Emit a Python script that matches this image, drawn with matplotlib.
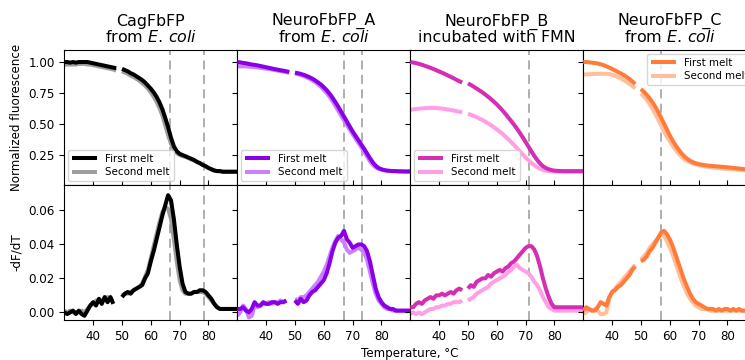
import numpy as np
import matplotlib
matplotlib.use("Agg")
import matplotlib.pyplot as plt

nan = np.nan
temperature = list(range(30, 91))

titles = ["CagFbFP\nfrom $\\it{E.}$$\\it{\\,coli}$",
          "NeuroFbFP_A\nfrom $\\it{E.}$$\\it{\\,coli}$",
          "NeuroFbFP_B\nincubated with FMN",
          "NeuroFbFP_C\nfrom $\\it{E.}$$\\it{\\,coli}$"]
series_labels = ["First melt", "Second melt"]
tm_lines = [[66.8, 78.5], [67.0, 73.1], [71.2], [56.9]]

# ---------------- normalized fluorescence ----------------
cag_f1 = [1.00, 1.00, 0.995, 1.00, 0.995, 1.00, 1.00, 1.00, 1.00, 0.995,
          0.99, 0.985, 0.98, 0.975, 0.97, 0.965, 0.96, 0.955, 0.95, nan,
          0.945, 0.935, 0.925, 0.91, 0.90, 0.885, 0.87, 0.855, 0.835, 0.81,
          0.785, 0.755, 0.72, 0.675, 0.62, 0.55, 0.475, 0.39, 0.32, 0.28,
          0.26, 0.25, 0.24, 0.23, 0.22, 0.21, 0.195, 0.185, 0.17, 0.16,
          0.145, 0.135, 0.125, 0.12, 0.12, 0.115, 0.115, 0.115, 0.115, 0.115, 0.115]
cag_f2 = [0.98, 0.98, 0.98, 0.98, 0.98, 0.985, 0.985, 0.985, 0.98, 0.98,
          0.975, 0.97, 0.965, 0.96, 0.955, 0.95, 0.945, 0.94, 0.93, nan,
          0.925, 0.915, 0.905, 0.89, 0.88, 0.865, 0.85, 0.83, 0.81, 0.785,
          0.755, 0.72, 0.68, 0.63, 0.57, 0.49, 0.41, 0.34, 0.29, 0.265,
          0.25, 0.24, 0.235, 0.225, 0.215, 0.205, 0.193, 0.183, 0.168, 0.158,
          0.145, 0.135, 0.125, 0.12, 0.12, 0.115, 0.115, 0.115, 0.115, 0.115, 0.115]

na_f1 = [1.00, 0.997, 0.993, 0.99, 0.985, 0.98, 0.977, 0.973, 0.968, 0.963,
         0.958, 0.953, 0.948, 0.943, 0.938, 0.934, 0.93, 0.925, 0.92, nan,
         0.915, 0.91, 0.904, 0.897, 0.888, 0.878, 0.866, 0.852, 0.836, 0.818,
         0.797, 0.773, 0.745, 0.713, 0.677, 0.64, 0.60, 0.56, 0.52, 0.48,
         0.44, 0.405, 0.37, 0.335, 0.30, 0.262, 0.225, 0.19, 0.163, 0.145,
         0.135, 0.128, 0.124, 0.122, 0.12, 0.12, 0.118, 0.118, 0.117, 0.117, 0.117]
na_f2 = [0.965, 0.965, 0.965, 0.965, 0.963, 0.96, 0.958, 0.956, 0.954, 0.95,
         0.947, 0.943, 0.939, 0.935, 0.931, 0.927, 0.923, 0.918, 0.913, nan,
         0.908, 0.902, 0.895, 0.887, 0.877, 0.866, 0.853, 0.838, 0.82, 0.80,
         0.776, 0.75, 0.72, 0.685, 0.648, 0.608, 0.568, 0.53, 0.492, 0.455,
         0.418, 0.383, 0.348, 0.313, 0.276, 0.238, 0.20, 0.17, 0.15, 0.138,
         0.132, 0.127, 0.123, 0.121, 0.12, 0.119, 0.118, 0.118, 0.117, 0.117, 0.117]

nb_f1 = [1.000, 0.996, 0.991, 0.985, 0.978, 0.970, 0.962, 0.953, 0.944, 0.934,
         0.924, 0.914, 0.903, 0.892, 0.881, 0.869, 0.857, 0.845, 0.835, nan,
         0.828, 0.815, 0.801, 0.786, 0.771, 0.755, 0.738, 0.72, 0.70, 0.68,
         0.658, 0.634, 0.609, 0.582, 0.552, 0.524, 0.494, 0.462, 0.428, 0.392,
         0.355, 0.317, 0.279, 0.243, 0.21, 0.182, 0.16, 0.145, 0.135, 0.128,
         0.124, 0.122, 0.121, 0.12, 0.12, 0.12, 0.12, 0.12, 0.12, 0.12, 0.12]
nb_f2 = [0.615, 0.618, 0.621, 0.624, 0.626, 0.628, 0.629, 0.63, 0.63, 0.629,
         0.627, 0.624, 0.621, 0.617, 0.613, 0.609, 0.604, 0.599, 0.594, nan,
         0.582, 0.574, 0.565, 0.555, 0.544, 0.532, 0.519, 0.505, 0.49, 0.474,
         0.457, 0.439, 0.42, 0.399, 0.377, 0.354, 0.33, 0.305, 0.279, 0.254,
         0.23, 0.207, 0.186, 0.167, 0.151, 0.139, 0.13, 0.124, 0.12, 0.118,
         0.117, 0.116, 0.116, 0.115, 0.115, 0.115, 0.115, 0.115, 0.115, 0.115, 0.115]

nc_f1 = [1.00, 1.00, 0.998, 0.995, 0.992, 0.988, 0.982, 0.975, 0.965, 0.955,
         0.944, 0.932, 0.92, 0.908, 0.895, 0.88, 0.863, 0.844, 0.823, nan,
         0.782, 0.76, 0.735, 0.707, 0.675, 0.638, 0.596, 0.55, 0.502, 0.455,
         0.408, 0.365, 0.328, 0.295, 0.265, 0.24, 0.22, 0.204, 0.192, 0.183,
         0.177, 0.172, 0.168, 0.165, 0.163, 0.161, 0.159, 0.157, 0.155, 0.153,
         0.151, 0.148, 0.146, 0.143, 0.141, 0.138, 0.136, 0.134, 0.132, 0.13, 0.128]
nc_f2 = [0.90, 0.90, 0.902, 0.903, 0.904, 0.905, 0.905, 0.905, 0.905, 0.903,
         0.898, 0.89, 0.88, 0.868, 0.855, 0.84, 0.824, 0.806, 0.787, nan,
         0.745, 0.722, 0.696, 0.66, 0.623, 0.58, 0.535, 0.488, 0.44, 0.398,
         0.36, 0.325, 0.292, 0.263, 0.238, 0.218, 0.202, 0.19, 0.181, 0.174,
         0.168, 0.163, 0.159, 0.155, 0.152, 0.149, 0.146, 0.144, 0.142, 0.14,
         0.138, 0.136, 0.134, 0.132, 0.13, 0.128, 0.127, 0.126, 0.125, 0.124, 0.123]

# ---------------- -dF/dT ----------------
cag_d1 = [0.000, -0.001, 0.000, 0.001, -0.001, 0.001, -0.001, -0.002, 0.001, 0.004,
          0.006, 0.004, 0.008, 0.005, 0.009, 0.006, 0.009, 0.005, nan, nan,
          0.009, 0.011, 0.012, 0.011, 0.013, 0.014, 0.015, 0.016, 0.020, 0.023,
          0.030, 0.036, 0.043, 0.050, 0.057, 0.063, 0.069, 0.066, 0.055, 0.040,
          0.027, 0.017, 0.012, 0.011, 0.011, 0.012, 0.012, 0.013, 0.013, 0.012,
          0.010, 0.008, 0.005, 0.003, 0.002, 0.002, 0.002, 0.002, 0.002, 0.002, 0.002]
cag_d2 = [0.001, 0.000, 0.001, 0.000, 0.000, 0.000, 0.001, 0.000, 0.002, 0.004,
          0.005, 0.007, 0.006, 0.007, 0.008, 0.009, 0.007, 0.008, nan, nan,
          0.010, 0.011, 0.011, 0.012, 0.013, 0.014, 0.015, 0.017, 0.021, 0.025,
          0.032, 0.039, 0.046, 0.053, 0.059, 0.062, 0.061, 0.055, 0.043, 0.030,
          0.019, 0.013, 0.011, 0.011, 0.011, 0.012, 0.012, 0.012, 0.012, 0.011,
          0.009, 0.007, 0.005, 0.003, 0.002, 0.002, 0.002, 0.002, 0.002, 0.002, 0.002]

na_d1 = [0.002, 0.002, 0.003, 0.001, 0.000, 0.002, 0.006, 0.004, 0.004, 0.006,
         0.005, 0.005, 0.006, 0.006, 0.005, 0.006, 0.006, 0.007, nan, nan,
         0.007, 0.005, 0.008, 0.006, 0.007, 0.010, 0.012, 0.013, 0.015, 0.017,
         0.019, 0.023, 0.029, 0.036, 0.041, 0.044, 0.045, 0.048, 0.043, 0.041,
         0.038, 0.039, 0.040, 0.040, 0.039, 0.036, 0.030, 0.022, 0.014, 0.009,
         0.006, 0.004, 0.003, 0.002, 0.002, 0.001, 0.001, 0.001, 0.001, 0.001, 0.001]
na_d2 = [-0.002, 0.000, 0.004, 0.002, -0.003, -0.002, 0.004, 0.003, 0.004, 0.005,
         0.005, 0.006, 0.005, 0.006, 0.006, 0.007, 0.006, 0.007, nan, nan,
         0.008, 0.007, 0.009, 0.009, 0.010, 0.012, 0.014, 0.016, 0.018, 0.021,
         0.024, 0.028, 0.033, 0.038, 0.042, 0.045, 0.043, 0.041, 0.037, 0.035,
         0.036, 0.037, 0.038, 0.037, 0.035, 0.031, 0.024, 0.017, 0.011, 0.007,
         0.005, 0.003, 0.002, 0.002, 0.001, 0.001, 0.001, 0.001, 0.001, 0.001, 0.001]

nb_d1 = [0.003, 0.003, 0.005, 0.006, 0.005, 0.007, 0.008, 0.009, 0.008, 0.010,
         0.010, 0.011, 0.010, 0.011, 0.012, 0.011, 0.013, 0.014, 0.013, nan,
         0.014, 0.016, 0.015, 0.018, 0.019, 0.020, 0.020, 0.022, 0.021, 0.023,
         0.024, 0.025, 0.024, 0.026, 0.027, 0.029, 0.030, 0.032, 0.034, 0.036,
         0.038, 0.039, 0.039, 0.037, 0.033, 0.027, 0.020, 0.014, 0.009, 0.005,
         0.003, 0.003, 0.003, 0.003, 0.003, 0.003, 0.003, 0.003, 0.003, 0.003, 0.003]
nb_d2 = [-0.001, 0.000, -0.001, 0.000, -0.001, 0.000, 0.001, 0.002, 0.002, 0.003,
         0.003, 0.004, 0.004, 0.005, 0.005, 0.006, 0.006, 0.006, 0.007, nan,
         0.007, 0.008, 0.009, 0.011, 0.012, 0.013, 0.014, 0.015, 0.017, 0.018,
         0.019, 0.020, 0.021, 0.022, 0.024, 0.025, 0.027, 0.028, 0.026, 0.025,
         0.024, 0.023, 0.021, 0.018, 0.016, 0.013, 0.009, 0.006, 0.003, 0.002,
         0.001, 0.001, 0.001, 0.001, 0.001, 0.001, 0.001, 0.001, 0.001, 0.001, 0.001]

nc_d1 = [0.001, 0.003, 0.002, 0.001, 0.001, 0.003, 0.006, 0.005, 0.004, 0.009,
         0.012, 0.013, 0.015, 0.016, 0.018, 0.020, 0.022, 0.025, 0.027, nan,
         0.030, 0.031, 0.033, 0.036, 0.038, 0.041, 0.044, 0.047, 0.048, 0.046,
         0.043, 0.039, 0.034, 0.029, 0.024, 0.019, 0.015, 0.011, 0.008, 0.006,
         0.005, 0.004, 0.003, 0.002, 0.002, 0.002, 0.001, 0.002, 0.001, 0.002,
         0.002, 0.001, 0.002, 0.001, 0.002, 0.001, 0.001, 0.001, 0.001, 0.001, 0.001]
nc_d2 = [-0.001, 0.000, 0.002, 0.001, 0.002, 0.001, -0.001, -0.001, 0.000, 0.008,
         0.012, 0.014, 0.016, 0.018, 0.020, 0.022, 0.024, 0.026, 0.028, nan,
         0.031, 0.033, 0.035, 0.038, 0.040, 0.042, 0.044, 0.046, 0.045, 0.042,
         0.038, 0.034, 0.029, 0.024, 0.019, 0.015, 0.011, 0.008, 0.006, 0.004,
         0.003, 0.002, 0.002, 0.002, 0.001, 0.001, 0.001, 0.001, 0.001, 0.001,
         0.001, 0.001, 0.001, 0.001, 0.001, 0.001, 0.001, 0.001, 0.001, 0.001, 0.001]

fluor = [(cag_f1, cag_f2), (na_f1, na_f2), (nb_f1, nb_f2), (nc_f1, nc_f2)]
deriv = [(cag_d1, cag_d2), (na_d1, na_d2), (nb_d1, nb_d2), (nc_d1, nc_d2)]
colors = [("#000000", "#9e9e9e"), ("#8a00e6", "#cc80ff"),
          ("#d42fb4", "#ff9fe6"), ("#ff7b3a", "#ffbf9c")]
legend_locs = ["lower left", "lower left", "lower left", "upper right"]

W, H = 745, 360
fig = plt.figure(figsize=(W / 100, H / 100), dpi=100)

left0, pw = 64.3, 173.0
top_y0, row_h = 50.0, 135.0
tick_fs = 8.6
for i in range(4):
    x0 = (left0 + i * pw) / W
    ax_t = fig.add_axes([x0, 1 - (top_y0 + row_h) / H, pw / W, row_h / H])
    ax_b = fig.add_axes([x0, 1 - (top_y0 + 2 * row_h) / H, pw / W, row_h / H])
    c1, c2 = colors[i]
    f1, f2 = fluor[i]
    d1, d2 = deriv[i]
    kw = dict(lw=2.9, solid_capstyle="butt")
    l2, = ax_t.plot(temperature, f2, color=c2, zorder=2, **kw)
    l1, = ax_t.plot(temperature, f1, color=c1, zorder=3, **kw)
    ax_b.plot(temperature, d2, color=c2, zorder=2, **kw)
    ax_b.plot(temperature, d1, color=c1, zorder=3, **kw)
    for t in tm_lines[i]:
        for ax in (ax_t, ax_b):
            ax.axvline(t, color="#a8a8a8", lw=1.3, ls=(0, (5, 3)), zorder=1)
    for ax in (ax_t, ax_b):
        ax.set_xlim(30, 90)
        ax.set_xticks([40, 50, 60, 70, 80])
        ax.tick_params(labelsize=tick_fs, length=3.5, width=0.8)
    ax_t.set_ylim(0.008, 1.097)
    ax_t.set_yticks([0.25, 0.50, 0.75, 1.00])
    ax_t.set_yticklabels(["0.25", "0.50", "0.75", "1.00"])
    ax_t.tick_params(axis="x", direction="in", labelbottom=False)
    ax_b.set_ylim(-0.0045, 0.075)
    ax_b.set_yticks([0.00, 0.02, 0.04, 0.06])
    ax_b.set_yticklabels(["0.00", "0.02", "0.04", "0.06"])
    if i > 0:
        ax_t.tick_params(labelleft=False)
        ax_b.tick_params(labelleft=False)
    else:
        ax_t.set_ylabel("Normalized fluorescence", fontsize=tick_fs)
        ax_b.set_ylabel("-dF/dT", fontsize=tick_fs)
    ax_t.set_title(titles[i], fontsize=11.4, linespacing=1.0, pad=6)
    ax_t.legend([l1, l2], series_labels, loc=legend_locs[i], fontsize=7.4,
                handlelength=2.4, borderaxespad=0.35, labelspacing=0.35,
                framealpha=0.8)

fig.text(410 / W, 1 - 354 / H, "Temperature, °C", ha="center", va="center",
         fontsize=tick_fs)

fig.savefig("out.png", dpi=100)
